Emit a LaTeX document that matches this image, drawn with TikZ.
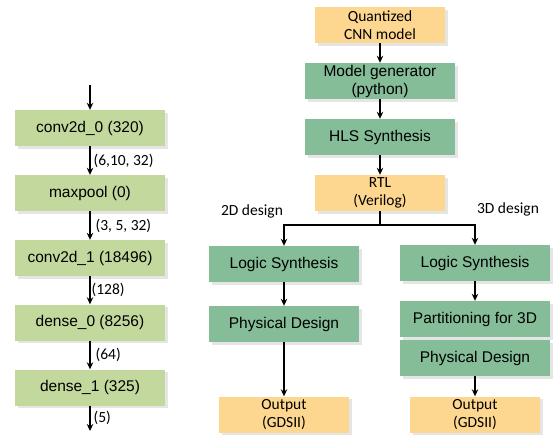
\documentclass[tikz,border=0pt]{standalone}
\usepackage{fontspec}
\setmainfont{Liberation Sans}
\newfontfamily\calibri{Carlito}
\usetikzlibrary{arrows.meta,shadows}
\definecolor{layergreen}{HTML}{C3D89C}
\definecolor{procgreen}{HTML}{84BD97}
\definecolor{fileorange}{HTML}{FDD690}

\begin{document}
\begin{tikzpicture}[x=1pt,y=-1pt,
        font=\fontsize{15.5}{18}\selectfont,
        >={Stealth[length=7pt,width=6.5pt]},
        arr/.style={->,line width=1.2pt},
        box/.style={minimum height=36pt,inner sep=1pt,align=center,
            drop shadow={shadow xshift=2.5pt,shadow yshift=-2.5pt,fill=black!20}},
        layer/.style={box,fill=layergreen,minimum width=150pt},
        proc/.style={box,fill=procgreen,minimum width=150pt},
        file/.style={box,fill=fileorange,minimum width=130pt,
            font=\calibri\fontsize{15.5}{18}\selectfont},
        lab/.style={font=\calibri\fontsize{15.5}{18}\selectfont,inner sep=3pt}]

    \useasboundingbox (0,0) rectangle (553,437);

    % network layers
    \coordinate (in) at (90,85);
    \node[layer] (c0) at (90,128)   {conv2d\_0 (320)};
    \node[layer] (mp) at (90,193)   {maxpool (0)};
    \node[layer] (c1) at (90,258)   {conv2d\_1 (18496)};
    \node[layer] (d0) at (90,322.5) {dense\_0 (8256)};
    \node[layer] (d1) at (90,387.5) {dense\_1 (325)};
    \coordinate (out) at (90,431);

    \draw[arr] (in) -- (c0);
    \draw[arr] (c0) -- (mp) node[midway,right,lab] {(6,10, 32)};
    \draw[arr] (mp) -- (c1) node[midway,right,lab,xshift=2pt] {(3, 5, 32)};
    \draw[arr] (c1) -- (d0) node[midway,right,lab,xshift=-2pt] {(128)};
    \draw[arr] (d0) -- (d1) node[midway,right,lab,xshift=2pt] {(64)};
    \draw[arr] (d1) -- (out) node[midway,right,lab] {(5)};

    % design flow
    \node[file] (cnn) at (380,25)  {Quantized\\CNN model};
    \node[proc] (gen) at (380,81)  {Model generator\\(python)};
    \node[proc] (hls) at (380,137) {HLS Synthesis};
    \node[file] (rtl) at (380,193) {RTL\\(Verilog)};
    \coordinate (fork) at (380,225);

    \node[lab] (t2) at (252,211) {2D design};
    \node[lab] (t3) at (508,209) {3D design};

    \node[proc] (ls2) at (284,264) {Logic Synthesis};
    \node[proc] (pd2) at (284,324) {Physical Design};
    \node[file] (o2)  at (284,414.5) {Output\\(GDSII)};

    \node[proc] (ls3) at (475,263) {Logic Synthesis};
    \node[proc] (pt3) at (475,319) {Partitioning for 3D};
    \node[proc] (pd3) at (475,358) {Physical Design};
    \node[file] (o3)  at (475,414.5) {Output\\(GDSII)};

    \draw[arr] (cnn) -- (gen);
    \draw[arr] (gen) -- (hls);
    \draw[arr] (hls) -- (rtl);
    \draw[line width=1.2pt] (rtl) -- (fork);
    \draw[arr] (fork) -| (ls2);
    \draw[arr] (fork) -| (ls3);
    \draw[arr] (ls2) -- (pd2);
    \draw[arr] (pd2) -- (o2);
    \draw[arr] (ls3) -- (pt3);
    \draw[arr] (pd3) -- (o3);
\end{tikzpicture}
\end{document}
